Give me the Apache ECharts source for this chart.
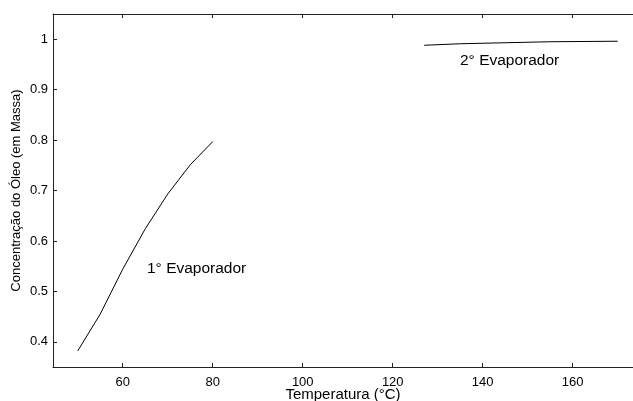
<!DOCTYPE html>
<html>
<head>
<meta charset="utf-8">
<script src="https://cdn.jsdelivr.net/npm/echarts@6/dist/echarts.min.js"></script>
<style>
  html, body { margin: 0; padding: 0; background: #fff; }
  #main { width: 633px; height: 401px; }
</style>
</head>
<body>
<div id="main"></div>
<script>
// data
let evap1X = [50, 55, 60, 65, 70, 75, 80];
let evap1Y = [0.382, 0.455, 0.544, 0.624, 0.693, 0.751, 0.797];
let evap2X = [127, 135, 145, 155, 170];
let evap2Y = [0.988, 0.991, 0.993, 0.995, 0.996];
let xTicks = [60, 80, 100, 120, 140, 160];
let yTicks = [0.4, 0.5, 0.6, 0.7, 0.8, 0.9, 1];

let chartDom = document.getElementById('main');
let myChart = echarts.init(chartDom);

let font = 'Liberation Sans, Arial, sans-serif';

function pairs(xs, ys) {
  return xs.map((x, i) => [x, ys[i]]);
}

let option = {
  backgroundColor: '#fff',
  animation: false,
  grid: { left: 53, right: 0, top: 14, bottom: 34, outerBoundsMode: 'none', containLabel: false },
  xAxis: [
    {
      type: 'value',
      min: 44.5,
      max: 173.4,
      position: 'bottom',
      name: 'Temperatura (°C)',
      nameLocation: 'middle',
      nameGap: 20,
      nameMoveOverlap: false,
      nameTextStyle: { color: '#000', fontSize: 15, fontFamily: font },
      axisLine: { show: true, lineStyle: { color: '#222', width: 1 } },
      axisTick: { show: true, inside: true, length: 4, customValues: xTicks, lineStyle: { color: '#222' } },
      axisLabel: { color: '#000', fontSize: 13, fontFamily: font, margin: 9, customValues: xTicks },
      splitLine: { show: false }
    },
    {
      type: 'value',
      min: 44.5,
      max: 173.4,
      position: 'top',
      axisLine: { show: true, lineStyle: { color: '#222', width: 1 } },
      axisTick: { show: true, inside: true, length: 4, customValues: xTicks, lineStyle: { color: '#222' } },
      axisLabel: { show: false },
      splitLine: { show: false }
    }
  ],
  yAxis: {
    type: 'value',
    min: 0.35,
    max: 1.05,
    name: 'Concentração do Óleo (em Massa)',
    nameLocation: 'middle',
    nameGap: 30,
    nameMoveOverlap: false,
    nameTextStyle: { color: '#000', fontSize: 13, fontFamily: font },
    axisLine: { show: true, lineStyle: { color: '#222', width: 1 } },
    axisTick: { show: true, inside: true, length: 4, customValues: yTicks, lineStyle: { color: '#222' } },
    axisLabel: { color: '#000', fontSize: 13, fontFamily: font, margin: 5, customValues: yTicks },
    splitLine: { show: false }
  },
  graphic: [
    { type: 'text', left: 147, top: 261, style: { text: '1° Evaporador', fill: '#000', font: '15.5px ' + font } },
    { type: 'text', left: 460, top: 53, style: { text: '2° Evaporador', fill: '#000', font: '15.5px ' + font } }
  ],
  series: [
    {
      name: '1° Evaporador',
      type: 'line',
      showSymbol: false,
      lineStyle: { color: '#000', width: 1 },
      data: pairs(evap1X, evap1Y)
    },
    {
      name: '2° Evaporador',
      type: 'line',
      showSymbol: false,
      lineStyle: { color: '#000', width: 1 },
      data: pairs(evap2X, evap2Y)
    }
  ]
};

option && myChart.setOption(option);
</script>
</body>
</html>
